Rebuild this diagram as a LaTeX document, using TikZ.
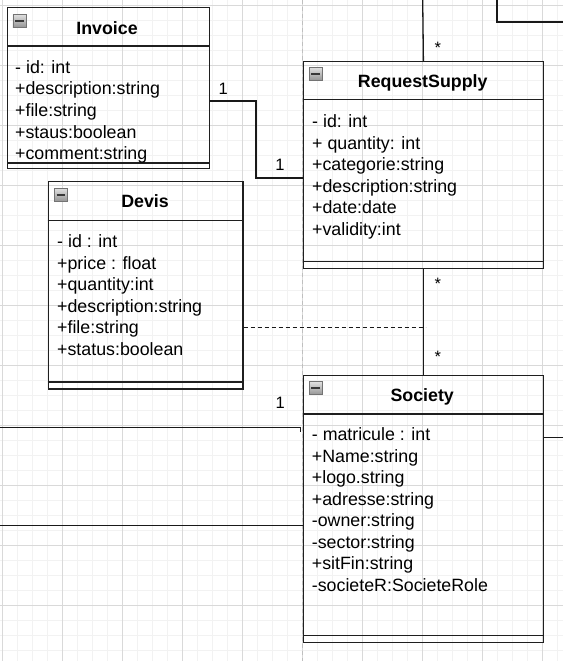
\documentclass[tikz,border=0pt]{standalone}
\usepackage{fontspec}
\setmainfont{Liberation Sans}
\newcommand\umlicon[2]{%
  \shade[top color=black!12, bottom color=black!42, draw=black!55, line width=0.8pt] (#1,#2) rectangle ++(13,13);
  \draw[line width=1.7pt, black!78] (#1+2.3,#2+6.5) -- ++(8.4,0);}
\tikzset{
  minorgrid/.style={black!5, line width=0.8pt},
  majorgrid/.style={black!15, line width=0.8pt},
  pagebreak/.style={black!25, line width=0.9pt, dash pattern=on 4pt off 3pt},
  umlbox/.style={draw=black!88, line width=1.4pt, inner sep=0pt, anchor=north west},
  boxline/.style={draw=black!88, line width=1.3pt},
  conn/.style={draw=black!90, line width=1.3pt},
  assoc/.style={draw=black!90, line width=1.2pt, dash pattern=on 4pt off 3pt},
  attr/.style={font=\fontsize{17.8}{21.5}\selectfont, inner sep=0pt, anchor=base west},
  ttl/.style={font=\fontsize{17.8}{21.5}\selectfont\bfseries, inner sep=0pt, anchor=base},
  mult/.style={font=\fontsize{16.5}{19}\selectfont, inner sep=0pt, anchor=base}
}
\begin{document}
\begin{tikzpicture}[x=1pt, y=-1pt]
\useasboundingbox (0,0) rectangle (563,661);
\fill[white] (0,0) rectangle (563,661);
% grid
\foreach \g in {2,17,...,562} \draw[minorgrid] (\g,0) -- (\g,661);
\foreach \g in {5,20,...,660} \draw[minorgrid] (0,\g) -- (563,\g);
\foreach \g in {2,62,...,542} \draw[majorgrid] (\g,0) -- (\g,661);
\foreach \g in {5,65,...,605} \draw[majorgrid] (0,\g) -- (563,\g);
\draw[pagebreak] (302,0) -- (302,661);

% boxes
\node[umlbox, minimum width=202, minimum height=161] (inv) at (7,7) {};
\node[umlbox, minimum width=240, minimum height=206.7] (rs) at (302.7,61) {};
\node[umlbox, minimum width=194.6, minimum height=207.3] (dv) at (47.7,181) {};
\node[umlbox, minimum width=240, minimum height=266.7] (soc) at (302.7,375) {};

% compartments
\draw[boxline] (inv.west |- 0,46) -- (inv.east |- 0,46);
\draw[boxline] (inv.west |- 0,163) -- (inv.east |- 0,163);
\draw[boxline] (rs.west |- 0,99.3) -- (rs.east |- 0,99.3);
\draw[boxline] (rs.west |- 0,261.7) -- (rs.east |- 0,261.7);
\draw[boxline] (dv.west |- 0,220.7) -- (dv.east |- 0,220.7);
\draw[boxline] (dv.west |- 0,382) -- (dv.east |- 0,382);
\draw[boxline] (soc.west |- 0,414) -- (soc.east |- 0,414);
\draw[boxline] (soc.west |- 0,635.3) -- (soc.east |- 0,635.3);

% icons
\umlicon{12.9}{14.2}
\umlicon{309}{67.5}
\umlicon{54.3}{188.3}
\umlicon{309}{381.7}

% titles
\node[ttl] (inv-t) at (107,34.3) {Invoice};
\node[ttl] (rs-t) at (422.7,87.7) {RequestSupply};
\node[ttl] (dv-t) at (145,207.7) {Devis};
\node[ttl] (soc-t) at (422.2,401.7) {Society};

% attributes
\node[attr] (inv-a1) at (15,73.5) {- id: int};
\node[attr] (inv-a2) at (15,95) {+description:string};
\node[attr] (inv-a3) at (15,116.5) {+file:string};
\node[attr] (inv-a4) at (15,138) {+staus:boolean};
\node[attr] (inv-a5) at (15,159.5) {+comment:string};

\node[attr] (rs-a1) at (312,127.5) {- id: int};
\node[attr] (rs-a2) at (312,149) {+ quantity: int};
\node[attr] (rs-a3) at (312,170.5) {+categorie:string};
\node[attr] (rs-a4) at (312,192) {+description:string};
\node[attr] (rs-a5) at (312,213.5) {+date:date};
\node[attr] (rs-a6) at (312,235) {+validity:int};

\node[attr] (dv-a1) at (57,247.5) {- id : int};
\node[attr] (dv-a2) at (57,269) {+price : float};
\node[attr] (dv-a3) at (57,290.5) {+quantity:int};
\node[attr] (dv-a4) at (57,312) {+description:string};
\node[attr] (dv-a5) at (57,333.5) {+file:string};
\node[attr] (dv-a6) at (57,355) {+status:boolean};

\node[attr] (soc-a1) at (311.7,440.5) {- matricule : int};
\node[attr] (soc-a2) at (311.7,462) {+Name:string};
\node[attr] (soc-a3) at (311.7,483.5) {+logo.string};
\node[attr] (soc-a4) at (311.7,505) {+adresse:string};
\node[attr] (soc-a5) at (311.7,526.5) {-owner:string};
\node[attr] (soc-a6) at (311.7,548) {-sector:string};
\node[attr] (soc-a7) at (311.7,569.5) {+sitFin:string};
\node[attr] (soc-a8) at (311.7,591) {-societeR:SocieteRole};

% free ends
\coordinate (top1) at (422.7,0);
\coordinate (tr1) at (497,0);
\coordinate (tr2) at (563,22);
\coordinate (dvend) at (425.7,327.7);
\coordinate (l1) at (0,427.7);
\coordinate (l1e) at (300.7,431.7);
\coordinate (l2) at (0,525.5);
\coordinate (r1) at (563,437.7);
\coordinate (r1e) at (543.6,521.7);

% connectors
\draw[conn] (inv.east |- 0,101) -| (256,178) -- (rs.west |- 0,178);
\draw[conn] (rs.north) -- (top1);
\draw[conn] (tr1) |- (tr2);
\draw[conn] (rs.south) -- (soc.north);
\draw[assoc] (dv.east |- 0,327.7) -- (dvend);
\draw[conn] (l1) -| (l1e);
\draw[conn] (l2) -- (soc.west |- l2);
\draw[conn] (r1) -| (r1e);

% multiplicities
\node[mult] (m1) at (223.3,94.3) {1};
\node[mult] (m2) at (280,170.7) {1};
\node[mult] (m3) at (280.2,408.5) {1};
\node[mult] (s1) at (437.8,53.9) {*};
\node[mult] (s2) at (437.8,289.7) {*};
\node[mult] (s3) at (437.8,362.1) {*};
\end{tikzpicture}
\end{document}
